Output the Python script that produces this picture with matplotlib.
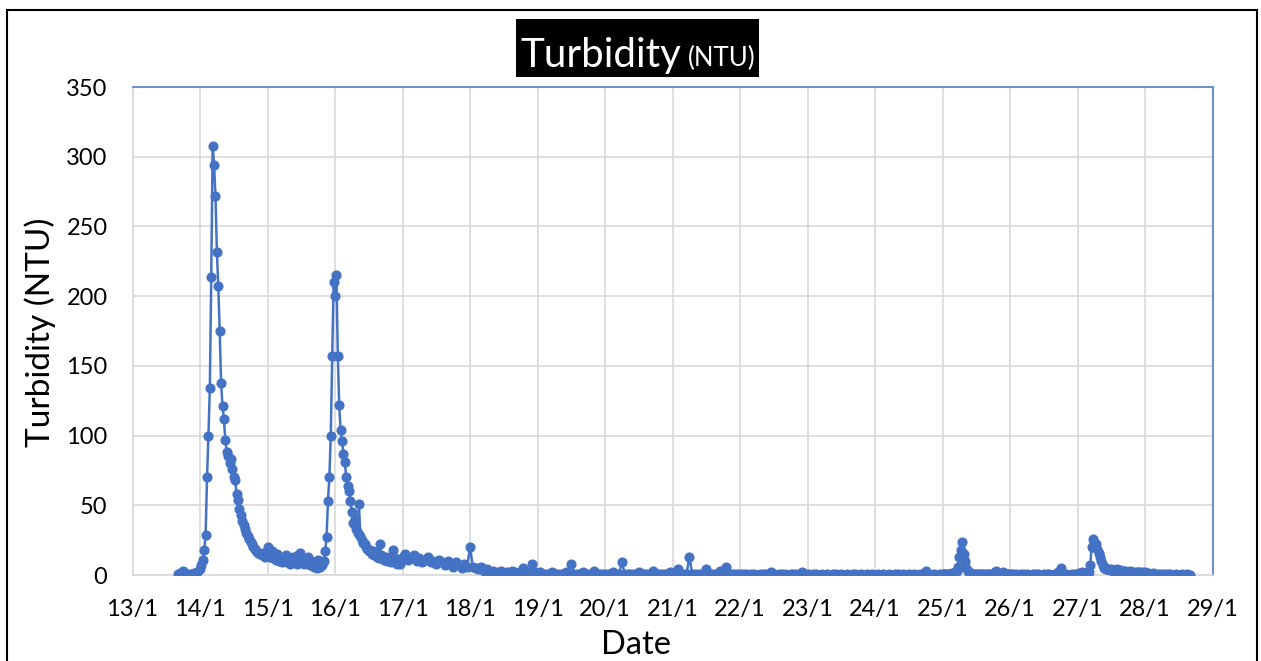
import numpy as np
import pandas as pd
import matplotlib
matplotlib.use("Agg")
import matplotlib.pyplot as plt
import matplotlib.dates as mdates
from matplotlib.patches import Rectangle

plt.rcParams["font.family"] = ["Lato", "DejaVu Sans"]

YEAR = 2023
BLUE = "#4472C4"

# Turbidity readings (NTU), one list per day.
# 13/1 starts at 16:00 (hourly); storm days are half-hourly; 28/1 ends at 16:00.
d13 = [0.5, 1.5, 3, 1, 0.5, 1, 1.5, 2.5]
d14 = [4, 7, 11, 18, 29, 70, 100, 134,
       214, 308, 294, 272, 232, 207, 175, 138,
       121, 112, 97, 88, 85, 80, 83, 76,
       70, 68, 58, 54, 47, 43, 39, 36,
       33, 30, 28, 26, 24, 22, 20, 19,
       17, 16, 16, 15, 14, 16, 13, 15]
d15 = [20, 16, 13, 17, 12, 14, 11, 15,
       10, 13, 9, 12, 10, 14, 9, 12,
       8, 11, 13, 9, 12, 8, 14, 16,
       10, 12, 8, 11, 9, 13, 7, 10,
       8, 6, 9, 5, 11, 6, 8, 7,
       10, 17, 27, 53, 70, 100, 157, 210]
d16 = [200, 215, 157, 122, 104, 96, 87, 81,
       70, 64, 60, 53, 45, 37, 40, 33,
       30, 51, 28, 25, 23, 22, 20, 19,
       17, 18, 15, 17, 14, 16, 13, 12,
       22, 14, 12, 11, 13, 10, 12, 11,
       9, 18, 10, 12, 8, 10, 8, 11]
d17 = [13, 15, 11, 12, 14, 10, 12, 9, 11, 13, 9, 10,
       8, 11, 9, 7, 10, 8, 6, 9, 7, 5, 8, 6]
d18 = [20, 6, 5, 4, 6, 3, 4, 2, 3, 1, 2, 3,
       1, 2, 1, 3, 2, 1, 2, 5, 2, 1, 8, 2]
d19 = [1, 2, 1, 0.5, 1, 2, 1, 0.5, 1, 0.5, 2, 1,
       8, 1, 0.5, 1, 2, 1, 0.5, 1, 3, 1, 0.5, 1]
d20 = [1, 0.5, 1, 2, 0.5, 1, 9, 1, 0.5, 1, 0.5, 1,
       2, 0.5, 1, 0.5, 1, 3, 1, 0.5, 1, 0.5, 1, 2]
d21 = [1, 0.5, 4, 1, 0.5, 1, 13, 1, 0.5, 1, 0.5, 1,
       4, 1, 0.5, 1, 0.5, 3, 1, 6, 1, 0.5, 1, 0.5]
d22 = [0.5, 1, 0.5, 0.3, 1, 0.5, 0.3, 0.5, 1, 0.5, 1, 2,
       0.5, 0.3, 0.5, 1, 0.5, 0.3, 0.5, 1, 0.5, 0.3, 2.5, 0.5]
d23 = [0.5, 0.3, 0.5, 1, 0.3, 0.5, 0.3, 0.5, 0.3, 1, 0.5, 0.3,
       0.5, 0.3, 0.5, 0.3, 0.5, 1, 0.3, 0.5, 0.3, 0.5, 0.3, 0.5]
d24 = [0.3, 0.5, 0.3, 0.5, 0.3, 0.5, 0.3, 0.5, 1, 0.3, 0.5, 0.3,
       0.5, 0.3, 0.5, 0.3, 1, 0.5, 3, 0.5, 0.3, 0.5, 0.3, 0.5]
d25 = [1, 0.5, 1, 0.5, 1, 0.5, 1, 1.5, 1, 2,
       3, 6, 13, 18, 24, 15, 10, 5, 3, 2,
       1, 0.5, 1, 0.5, 1, 0.5, 0.3, 0.5, 1, 0.5, 0.3, 0.5, 1, 0.5,
       0.3, 0.5, 1, 2, 3, 1, 0.5, 1, 0.5, 2.5, 1, 0.5, 1, 0.5]
d26 = [0.5, 1, 0.5, 0.3, 0.5, 1, 0.5, 0.3, 0.5, 1, 0.5, 0.3,
       0.5, 1, 0.5, 0.3, 1, 2, 5, 1, 0.5, 0.3, 0.5, 1]
d27 = [1, 1.5, 1, 2, 1, 1.5, 1, 2,
       2, 7, 20, 26, 24, 22, 19, 16, 13, 10, 7, 5,
       4, 4.5, 4, 3.5, 4, 3, 3.5, 3, 4, 3, 3.5, 3, 2.5, 3,
       3, 2.5, 2, 3, 2, 2.5, 2, 1.5, 2, 2.5, 2, 1.5, 2, 1.5]
d28 = [2, 1.5, 1, 1.5, 1, 0.5, 1, 0.5, 1, 0.5, 0.3, 0.5, 0.3, 0.5, 0.3, 0.5, 0.3]

# (day of January, readings, first hour, step in hours)
days = [(13, d13, 16, 1), (14, d14, 0, 0.5), (15, d15, 0, 0.5), (16, d16, 0, 0.5),
        (17, d17, 0, 1), (18, d18, 0, 1), (19, d19, 0, 1), (20, d20, 0, 1),
        (21, d21, 0, 1), (22, d22, 0, 1), (23, d23, 0, 1), (24, d24, 0, 1),
        (25, d25, 0, 0.5), (26, d26, 0, 1), (27, d27, 0, 0.5), (28, d28, 0, 1)]

times = []
turbidity = []
for day, vals, start, step in days:
    t0 = pd.Timestamp(YEAR, 1, day) + pd.Timedelta(hours=start)
    times += list(t0 + pd.to_timedelta(np.arange(len(vals)) * step, unit="h"))
    turbidity += vals

W, H = 1261, 661
fig = plt.figure(figsize=(W / 100, H / 100), dpi=100)
ax = fig.add_axes([132.5 / W, 1 - 575 / H, 1080 / W, 488 / H])

ax.plot(times, turbidity, "-o", color=BLUE, lw=1.8, ms=6.3, mec=BLUE, mfc=BLUE,
        zorder=3)

ax.set_xlim(pd.Timestamp(YEAR, 1, 13), pd.Timestamp(YEAR, 1, 29))
ax.set_ylim(0, 350)
ax.set_yticks(np.arange(0, 351, 50))
ax.xaxis.set_major_locator(mdates.DayLocator())
ax.xaxis.set_major_formatter(mdates.DateFormatter("%-d/%-m"))

ax.grid(color="#D9D9D9", lw=1.2, zorder=0)
ax.set_axisbelow(True)
for side in ["left", "bottom"]:
    ax.spines[side].set_color("#D9D9D9")
    ax.spines[side].set_linewidth(1.2)
for side in ["top", "right"]:
    ax.spines[side].set_color("#6F90CF")
    ax.spines[side].set_linewidth(1.5)
ax.tick_params(axis="both", length=0, labelsize=17, colors="black")
ax.tick_params(axis="x", pad=17)
ax.tick_params(axis="y", pad=18)

fig.text(40 / W, 1 - 332 / H, "Turbidity (NTU)", rotation=90, ha="center",
         va="center", fontsize=24)
fig.text(636 / W, 1 - 645 / H, "Date", ha="center", va="center", fontsize=23.5)

# title box
fig.patches.append(Rectangle((516 / W, 1 - 77 / H), 243 / W, 58 / H,
                             transform=fig.transFigure, fc="black", ec="none"))
fig.text(520 / W, 1 - 66.5 / H, "Turbidity", color="white", fontsize=29,
         ha="left", va="baseline")
fig.text(688 / W, 1 - 66.5 / H, "(NTU)", color="white", fontsize=18.5,
         ha="left", va="baseline")

# outer frame
fig.patches.append(Rectangle((7 / W, -0.05), 1250 / W, 1.05 - 10.5 / H,
                             transform=fig.transFigure, fill=False,
                             ec="black", lw=1.5))

fig.savefig("out.png", dpi=100)
